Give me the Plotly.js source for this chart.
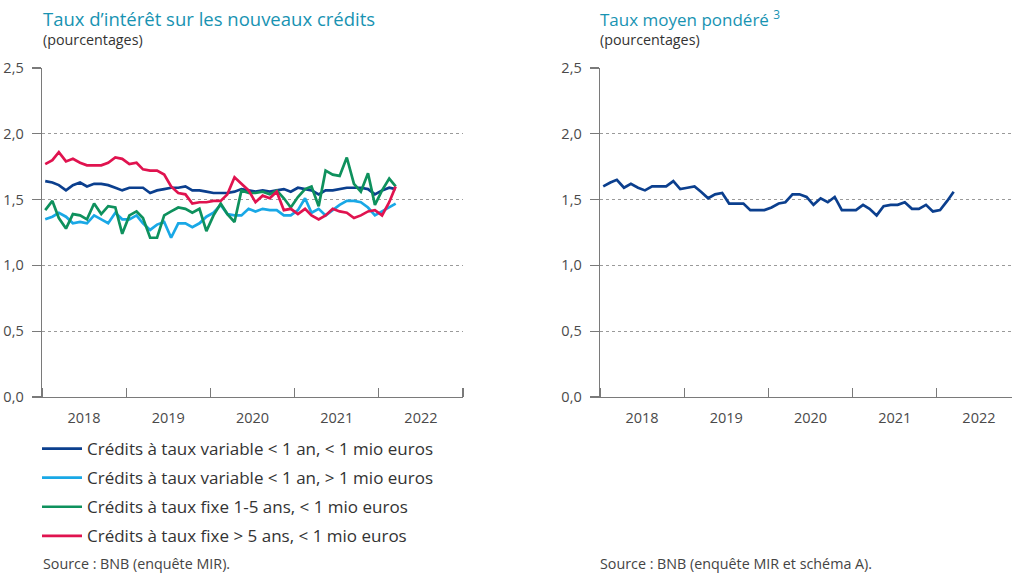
<!DOCTYPE html>
<html>
<head>
<meta charset="utf-8">
<script src="https://cdn.plot.ly/plotly-3.0.1.min.js"></script>
<style>html,body{margin:0;padding:0;background:#fff;}#chart{width:1012px;height:574px;}</style>
</head>
<body>
<div id="chart"></div>
<script>
// Monthly observations, January 2018 – March 2022 (plotted mid-month)
var months = [
 "2018-01-15","2018-02-15","2018-03-15","2018-04-15","2018-05-15","2018-06-15","2018-07-15","2018-08-15","2018-09-15","2018-10-15","2018-11-15","2018-12-15",
 "2019-01-15","2019-02-15","2019-03-15","2019-04-15","2019-05-15","2019-06-15","2019-07-15","2019-08-15","2019-09-15","2019-10-15","2019-11-15","2019-12-15",
 "2020-01-15","2020-02-15","2020-03-15","2020-04-15","2020-05-15","2020-06-15","2020-07-15","2020-08-15","2020-09-15","2020-10-15","2020-11-15","2020-12-15",
 "2021-01-15","2021-02-15","2021-03-15","2021-04-15","2021-05-15","2021-06-15","2021-07-15","2021-08-15","2021-09-15","2021-10-15","2021-11-15","2021-12-15",
 "2022-01-15","2022-02-15","2022-03-15"
];

var seriesNames = [
 "Crédits à taux variable < 1 an, < 1 mio euros",
 "Crédits à taux variable < 1 an, > 1 mio euros",
 "Crédits à taux fixe 1-5 ans, < 1 mio euros",
 "Crédits à taux fixe > 5 ans, < 1 mio euros"
];

var variableSmall = [1.64,1.63,1.61,1.57,1.61,1.63,1.60,1.62,1.62,1.61,1.59,1.57,
 1.59,1.59,1.59,1.55,1.57,1.58,1.59,1.59,1.60,1.57,1.57,1.56,
 1.55,1.55,1.55,1.56,1.58,1.57,1.56,1.57,1.56,1.57,1.58,1.56,
 1.59,1.58,1.57,1.54,1.57,1.57,1.58,1.59,1.59,1.59,1.58,1.54,
 1.57,1.59,1.58];

var variableLarge = [1.35,1.37,1.40,1.37,1.32,1.33,1.32,1.38,1.35,1.32,1.40,1.35,
 1.35,1.38,1.32,1.27,1.31,1.33,1.21,1.32,1.32,1.29,1.32,1.37,
 1.40,1.46,1.39,1.38,1.38,1.43,1.41,1.43,1.42,1.42,1.38,1.38,
 1.42,1.51,1.40,1.43,1.38,1.42,1.46,1.49,1.49,1.48,1.44,1.38,
 1.41,1.44,1.47];

var fixed1to5 = [1.42,1.49,1.36,1.28,1.39,1.38,1.35,1.47,1.39,1.45,1.44,1.24,
 1.38,1.41,1.36,1.21,1.21,1.38,1.41,1.44,1.43,1.40,1.43,1.26,
 1.38,1.47,1.39,1.33,1.57,1.55,1.55,1.56,1.54,1.57,1.51,1.44,
 1.52,1.58,1.60,1.45,1.72,1.69,1.68,1.82,1.62,1.56,1.70,1.46,
 1.57,1.66,1.60];

var fixedOver5 = [1.77,1.80,1.86,1.79,1.81,1.78,1.76,1.76,1.76,1.78,1.82,1.81,
 1.77,1.78,1.73,1.72,1.72,1.69,1.60,1.55,1.54,1.47,1.48,1.48,
 1.49,1.49,1.54,1.67,1.62,1.57,1.48,1.53,1.51,1.56,1.42,1.43,
 1.39,1.43,1.38,1.35,1.38,1.43,1.41,1.40,1.36,1.38,1.41,1.42,
 1.38,1.48,1.60];

var weightedAverage = [1.60,1.63,1.65,1.59,1.62,1.59,1.57,1.60,1.60,1.60,1.64,1.58,
 1.59,1.60,1.56,1.51,1.54,1.55,1.47,1.47,1.47,1.42,1.42,1.42,
 1.44,1.47,1.48,1.54,1.54,1.52,1.46,1.51,1.48,1.52,1.42,1.42,
 1.42,1.46,1.43,1.38,1.45,1.46,1.46,1.48,1.43,1.43,1.46,1.41,
 1.42,1.49,1.56];

var seriesColors = ["#0b3f8e","#19a8e6","#0e915d","#e0134f"];
var yTicks = [0, 0.5, 1.0, 1.5, 2.0, 2.5];

var leftValues = [variableSmall, variableLarge, fixed1to5, fixedOver5];
var traces = [];
for (var i = 0; i < leftValues.length; i++) {
  traces.push({
    x: months, y: leftValues[i], type: "scatter", mode: "lines",
    name: seriesNames[i], legendgroup: "g" + i,
    line: {color: seriesColors[i], width: 2.7},
    xaxis: "x", yaxis: "y", hoverinfo: "x+y"
  });
}
traces.push({
  x: months, y: weightedAverage, type: "scatter", mode: "lines",
  name: "Taux moyen pondéré", showlegend: false,
  line: {color: seriesColors[0], width: 2.7},
  xaxis: "x2", yaxis: "y2"
});

var fontFam = "'Open Sans', 'Noto Sans', sans-serif";
var axisGrey = "#7a7a7a";
function xAxis(domain, rangeEnd, anchor) {
  return {
    domain: domain, anchor: anchor, type: "date",
    range: ["2018-01-01", rangeEnd],
    tick0: "2018-01-01", dtick: "M12", tickformat: "%Y",
    ticklabelmode: "period",
    ticks: "inside", ticklen: 9, tickwidth: 1.2, tickcolor: axisGrey,
    showline: true, linecolor: axisGrey, linewidth: 1.4,
    showgrid: false, zeroline: false,
    ticklabelstandoff: 7,
    tickfont: {family: fontFam, size: 14.5, color: "#4a4a4a"},
    fixedrange: true
  };
}
function yAxis(domain, anchor) {
  return {
    domain: domain, anchor: anchor, range: [0, 2.5],
    tickvals: yTicks, tickformat: ".1f",
    ticks: "outside", ticklen: 9, tickwidth: 1.2, tickcolor: axisGrey,
    showline: true, linecolor: axisGrey, linewidth: 1.4,
    showgrid: true, gridcolor: "#9a9a9a", gridwidth: 1, griddash: "dot",
    zeroline: false, ticklabelstandoff: 5,
    tickfont: {family: fontFam, size: 14.5, color: "#4a4a4a"},
    fixedrange: true
  };
}

var W = 1012, H = 574;
function px(x) { return x / W; }
function py(y) { return 1 - y / H; }

var yDom = [py(397), py(68)];
var layout = {
  width: W, height: H,
  margin: {l: 0, r: 0, t: 0, b: 0},
  paper_bgcolor: "#ffffff", plot_bgcolor: "#ffffff",
  separators: ",.",
  font: {family: fontFam, color: "#333"},
  showlegend: true,
  xaxis: xAxis([px(42), px(463)], "2023-01-01", "y"),
  yaxis: yAxis(yDom, "x"),
  xaxis2: xAxis([px(600), 1], "2022-11-23", "y2"),
  yaxis2: yAxis(yDom, "x2"),
  legend: {
    x: px(37), y: py(431), xanchor: "left", yanchor: "top",
    orientation: "v", tracegroupgap: 4, itemwidth: 40,
    font: {family: fontFam, size: 17, color: "#333"},
    bgcolor: "rgba(0,0,0,0)", borderwidth: 0
  },
  annotations: [
    {text: "Taux d’intérêt sur les nouveaux crédits", x: px(41), y: py(19), xref: "paper", yref: "paper",
     xanchor: "left", yanchor: "middle", showarrow: false,
     font: {family: fontFam, size: 18.5, color: "#1893b2"}},
    {text: "(pourcentages)", x: px(41), y: py(39), xref: "paper", yref: "paper",
     xanchor: "left", yanchor: "middle", showarrow: false,
     font: {family: fontFam, size: 14.3, color: "#333"}},
    {text: "Taux moyen pondéré <sup>3</sup>", x: px(598), y: py(19), xref: "paper", yref: "paper",
     xanchor: "left", yanchor: "middle", showarrow: false,
     font: {family: fontFam, size: 17, color: "#1893b2"}},
    {text: "(pourcentages)", x: px(598), y: py(39), xref: "paper", yref: "paper",
     xanchor: "left", yanchor: "middle", showarrow: false,
     font: {family: fontFam, size: 14.3, color: "#333"}},
    {text: "Source : BNB (enquête MIR).", x: px(41), y: py(563), xref: "paper", yref: "paper",
     xanchor: "left", yanchor: "middle", showarrow: false,
     font: {family: fontFam, size: 14.3, color: "#444"}},
    {text: "Source : BNB (enquête MIR et schéma A).", x: px(598), y: py(563), xref: "paper", yref: "paper",
     xanchor: "left", yanchor: "middle", showarrow: false,
     font: {family: fontFam, size: 14.3, color: "#444"}}
  ]
};

Plotly.newPlot("chart", traces, layout, {displayModeBar: false, staticPlot: true});
</script>
</body>
</html>
